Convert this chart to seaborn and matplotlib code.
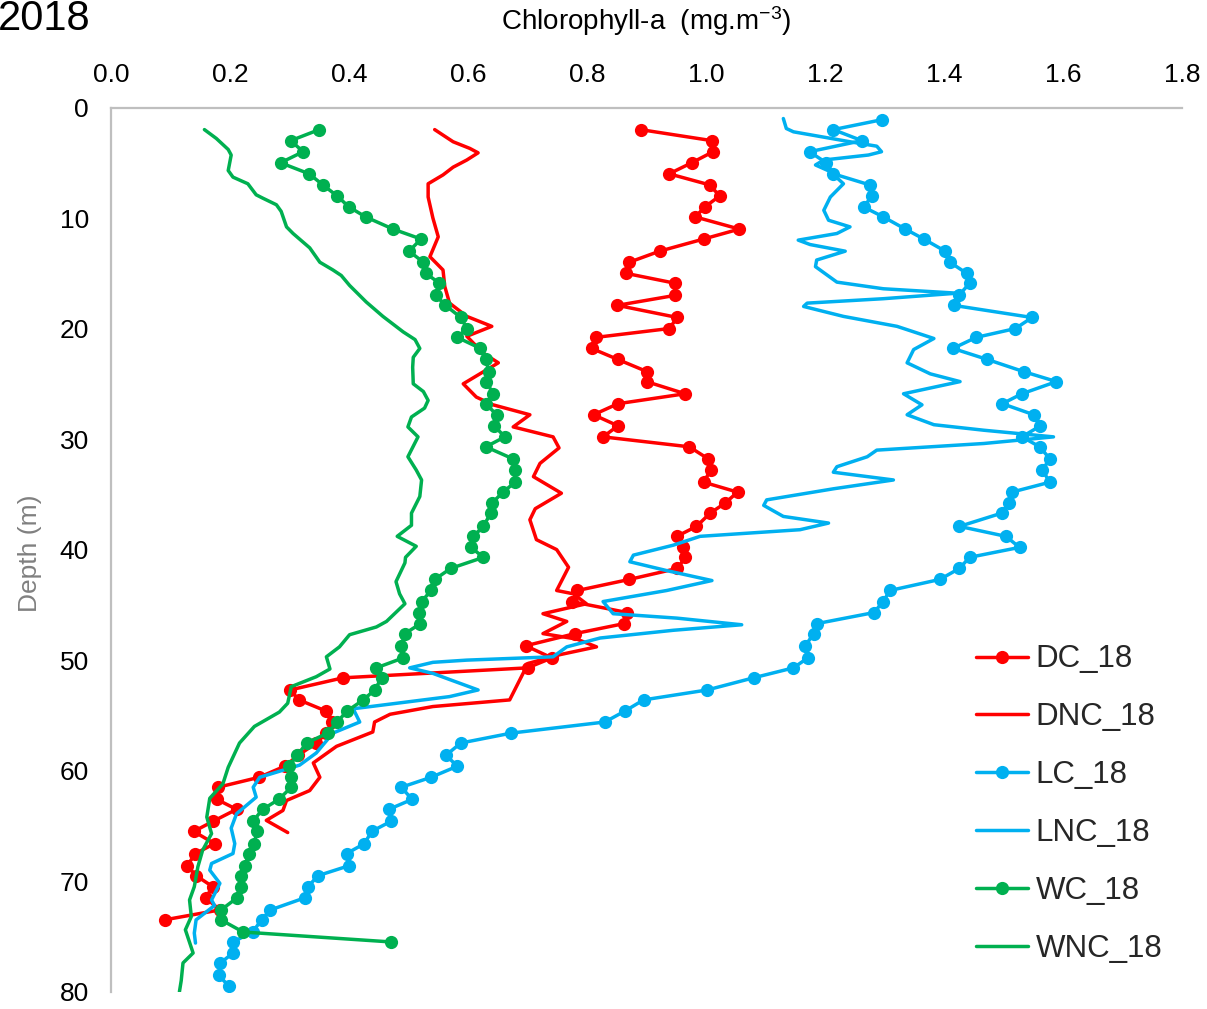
import matplotlib
matplotlib.use("Agg")
import matplotlib.pyplot as plt
import seaborn as sns

# ---- Chlorophyll-a profiles, 2018 (depth in m, chlorophyll-a in mg.m-3) ----

# DC_18 : discrete samples
dc_depth = [2, 3, 4, 5, 6, 7, 8, 9, 9.9, 11, 11.9, 13, 14, 15, 15.9, 17, 17.9, 19, 20,
            20.8, 21.8, 22.8, 23.9, 24.8, 25.9, 26.8, 27.8, 28.8, 29.8,
            30.7, 31.8, 32.8, 33.9, 34.8, 35.8, 36.7, 37.9, 38.8, 39.8,
            40.7, 41.7, 42.7, 43.7, 44.7, 45.7, 46.7, 47.6, 48.7, 49.8,
            50.7, 51.6, 52.7, 53.6, 54.6, 55.6, 56.6, 57.5, 58.6, 59.6,
            60.6, 61.5, 62.6, 63.5, 64.6, 65.5, 66.6, 67.5, 68.6, 69.5,
            70.5, 71.5, 72.6, 73.5]
dc_chl = [0.890, 1.010, 1.012, 0.976, 0.938, 1.006, 1.023, 0.998, 0.982, 1.056, 0.996,
          0.922, 0.871, 0.865, 0.948, 0.948, 0.851, 0.952, 0.938,
          0.815, 0.808, 0.852, 0.901, 0.900, 0.965, 0.852, 0.811, 0.852, 0.827,
          0.972, 1.004, 1.008, 0.996, 1.053, 1.032, 1.007, 0.984, 0.951, 0.962,
          0.965, 0.952, 0.871, 0.784, 0.774, 0.868, 0.862, 0.780, 0.697, 0.741,
          0.700, 0.390, 0.301, 0.316, 0.361, 0.372, 0.362, 0.345, 0.315, 0.292,
          0.249, 0.180, 0.178, 0.211, 0.171, 0.139, 0.174, 0.142, 0.128, 0.143,
          0.171, 0.159, 0.183, 0.090]

# DNC_18 : continuous profile
dnc_depth = [2.0, 3.1, 3.7, 4.1, 4.75, 5.4, 6.1, 6.9, 8.1, 10.0,
             11.7, 13.5, 14.7, 16.2, 17.7, 18.9, 19.8, 20.7, 22.2, 23.1,
             25.0, 26.2, 26.9, 27.8, 28.9, 29.8, 30.8, 32.2, 33.4, 34.9,
             36.3, 37.3, 39.1, 40.0, 41.6, 43.7, 44.0, 44.9, 45.8, 46.5,
             47.6, 48.1, 48.8, 49.5, 50.3, 53.6, 54.2, 54.9, 55.6, 56.5,
             57.8, 59.3, 60.6, 61.8, 62.7, 63.6, 64.5, 65.6]
dnc_chl = [0.544, 0.575, 0.603, 0.617, 0.598, 0.575, 0.558, 0.533, 0.533, 0.541,
           0.550, 0.536, 0.558, 0.561, 0.569, 0.598, 0.640, 0.598, 0.625, 0.651,
           0.592, 0.614, 0.642, 0.704, 0.676, 0.743, 0.753, 0.721, 0.710, 0.757,
           0.713, 0.704, 0.715, 0.749, 0.769, 0.749, 0.777, 0.799, 0.726, 0.766,
           0.726, 0.783, 0.816, 0.755, 0.701, 0.670, 0.541, 0.469, 0.443, 0.440,
           0.379, 0.340, 0.351, 0.334, 0.295, 0.289, 0.261, 0.297]

# LC_18 : discrete samples
lc_depth = [1.1, 2, 3, 4, 5, 6, 7, 8, 9, 9.9, 11, 11.9, 13, 14, 15, 15.9, 17, 17.9, 19, 20,
            20.8, 21.8, 22.8, 23.9, 24.8, 25.9, 26.8, 27.8, 28.8, 29.8,
            30.7, 31.8, 32.8, 33.9, 34.8, 35.8, 36.7, 37.9, 38.8, 39.8,
            40.7, 41.7, 42.7, 43.7, 44.7, 45.7, 46.7, 47.6, 48.7, 49.8,
            50.7, 51.6, 52.7, 53.6, 54.6, 55.6, 56.6, 57.5, 58.6, 59.6,
            60.6, 61.5, 62.6, 63.5, 64.6, 65.5, 66.6, 67.5, 68.6, 69.5,
            70.5, 71.5, 72.6, 73.5, 74.6, 75.5, 76.5, 77.4, 78.5, 79.5]
lc_chl = [1.296, 1.214, 1.262, 1.174, 1.202, 1.214, 1.275, 1.279, 1.265, 1.298,
          1.335, 1.366, 1.402, 1.410, 1.438, 1.443, 1.425, 1.416, 1.548, 1.520,
          1.454, 1.415, 1.473, 1.534, 1.589, 1.531, 1.498, 1.551, 1.562, 1.531,
          1.561, 1.578, 1.565, 1.578, 1.514, 1.510, 1.497, 1.426, 1.504, 1.527,
          1.443, 1.426, 1.393, 1.309, 1.298, 1.282, 1.186, 1.181, 1.167, 1.171,
          1.147, 1.080, 1.002, 0.895, 0.864, 0.830, 0.673, 0.588, 0.563, 0.582,
          0.538, 0.488, 0.506, 0.467, 0.470, 0.438, 0.426, 0.396, 0.400, 0.348,
          0.331, 0.326, 0.268, 0.253, 0.238, 0.205, 0.205, 0.184, 0.181, 0.198]

# LNC_18 : continuous profile
lnc_depth = [1.0, 1.9, 2.2, 3.1, 3.5, 4.0, 4.3, 4.75, 5.2, 5.8,
             6.9, 8.1, 9.3, 10.2, 10.8, 11.4, 12.0, 12.4, 13.0, 13.8,
             14.4, 15.8, 16.4, 16.8, 17.3, 17.7, 18.0, 18.9, 19.8, 20.9,
             21.9, 23.1, 24.1, 24.8, 25.9, 26.9, 27.8, 28.7, 29.2, 29.8,
             30.4, 31.0, 31.6, 32.5, 33.0, 33.7, 34.5, 35.5, 36.0, 37.0,
             37.6, 38.2, 38.8, 39.6, 40.5, 41.1, 41.9, 42.8, 43.7, 44.7,
             45.8, 46.2, 46.8, 47.3, 48.0, 48.8, 49.7, 50.0, 50.2, 50.7,
             51.2, 52.7, 53.3, 54.4, 55.6, 56.6, 58.4, 59.5, 60.6, 61.5,
             62.4, 63.9, 65.2, 66.6, 67.5, 68.4, 69.0, 70.2, 71.7, 72.2,
             73.5, 74.7, 75.6]
lnc_chl = [1.130, 1.135, 1.147, 1.242, 1.287, 1.295, 1.273, 1.198, 1.184, 1.209,
           1.231, 1.209, 1.198, 1.206, 1.242, 1.220, 1.155, 1.175, 1.234, 1.186,
           1.184, 1.220, 1.298, 1.422, 1.298, 1.170, 1.164, 1.231, 1.321, 1.383,
           1.349, 1.338, 1.377, 1.427, 1.332, 1.363, 1.338, 1.383, 1.467, 1.584,
           1.467, 1.287, 1.271, 1.220, 1.214, 1.315, 1.214, 1.102, 1.097, 1.130,
           1.206, 1.158, 0.990, 0.945, 0.878, 0.872, 0.934, 1.010, 0.934, 0.827,
           0.844, 0.951, 1.060, 0.945, 0.822, 0.766, 0.743, 0.598, 0.541, 0.502,
           0.541, 0.617, 0.569, 0.407, 0.418, 0.373, 0.345, 0.317, 0.250, 0.239,
           0.244, 0.211, 0.202, 0.208, 0.205, 0.169, 0.166, 0.183, 0.169, 0.174,
           0.143, 0.140, 0.142]

# WC_18 : discrete samples
wc_depth = [2, 3, 4, 5, 6, 7, 8, 9, 9.9, 11, 11.9, 13, 14, 15, 15.9, 17, 17.9, 19, 20,
            20.8, 21.8, 22.8, 23.9, 24.8, 25.9, 26.8, 27.8, 28.8, 29.8,
            30.7, 31.8, 32.8, 33.9, 34.8, 35.8, 36.7, 37.9, 38.8, 39.8,
            40.7, 41.7, 42.7, 43.7, 44.7, 45.7, 46.7, 47.6, 48.7, 49.8,
            50.7, 51.6, 52.7, 53.6, 54.6, 55.6, 56.6, 57.5, 58.6, 59.6,
            60.6, 61.5, 62.6, 63.5, 64.6, 65.5, 66.6, 67.5, 68.6, 69.5,
            70.5, 71.5, 72.6, 73.5, 74.6, 75.5]
wc_chl = [0.350, 0.302, 0.323, 0.285, 0.333, 0.356, 0.380, 0.400, 0.428, 0.474, 0.521,
          0.501, 0.525, 0.529, 0.552, 0.546, 0.562, 0.588, 0.598,
          0.582, 0.621, 0.630, 0.635, 0.631, 0.642, 0.630, 0.648, 0.644, 0.662,
          0.630, 0.676, 0.679, 0.679, 0.659, 0.640, 0.638, 0.626, 0.609, 0.605,
          0.626, 0.571, 0.544, 0.538, 0.522, 0.518, 0.520, 0.494, 0.488, 0.491,
          0.446, 0.455, 0.443, 0.424, 0.397, 0.380, 0.364, 0.329, 0.313, 0.299,
          0.303, 0.303, 0.282, 0.255, 0.238, 0.245, 0.241, 0.232, 0.225, 0.219,
          0.219, 0.212, 0.185, 0.185, 0.222, 0.471]

# WNC_18 : continuous profile
wnc_depth = [2.0, 2.8, 3.8, 4.3, 5.7, 6.3, 6.9, 7.9, 8.2, 8.8,
             9.4, 10.8, 11.4, 12.7, 14.0, 14.7, 15.2, 16.1, 17.6, 18.9,
             20.3, 21.0, 21.8, 22.6, 23.5, 25.0, 25.7, 26.5, 27.2, 28.0,
             28.9, 29.8, 31.6, 32.8, 33.7, 35.2, 36.7, 37.8, 38.8, 39.7,
             40.7, 41.2, 42.9, 44.0, 44.9, 46.5, 47.0, 47.7, 48.8, 49.7,
             50.8, 51.5, 52.4, 53.9, 54.7, 56.0, 57.5, 59.7, 61.2, 62.5,
             64.2, 65.7, 67.2, 68.7, 70.5, 71.7, 73.2, 74.4, 76.5, 77.4,
             79.0, 80.0]
wnc_chl = [0.157, 0.177, 0.197, 0.202, 0.197, 0.205, 0.230, 0.244, 0.255, 0.278,
           0.286, 0.295, 0.306, 0.334, 0.351, 0.373, 0.387, 0.401, 0.429, 0.457,
           0.491, 0.511, 0.519, 0.508, 0.507, 0.508, 0.525, 0.533, 0.527, 0.505,
           0.499, 0.516, 0.499, 0.513, 0.522, 0.519, 0.505, 0.505, 0.481, 0.513,
           0.495, 0.494, 0.479, 0.485, 0.494, 0.463, 0.446, 0.401, 0.384, 0.362,
           0.368, 0.345, 0.303, 0.297, 0.283, 0.241, 0.216, 0.197, 0.188, 0.166,
           0.161, 0.169, 0.154, 0.146, 0.140, 0.132, 0.135, 0.125, 0.138, 0.121,
           0.118, 0.115]

x_ticks = [0.0, 0.2, 0.4, 0.6, 0.8, 1.0, 1.2, 1.4, 1.6, 1.8]
y_ticks = [0, 10, 20, 30, 40, 50, 60, 70, 80]

RED = "#FF0000"
BLUE = "#00B0F0"
GREEN = "#00B050"

sns.set_style("white")
plt.rcParams["font.family"] = ["Liberation Sans", "DejaVu Sans"]
plt.rcParams["mathtext.fontset"] = "custom"
plt.rcParams["mathtext.rm"] = "Liberation Sans"
plt.rcParams["mathtext.it"] = "Liberation Sans:italic"

W, H = 1207, 1009
fig = plt.figure(figsize=(W / 100, H / 100), dpi=100)
x0, x1 = 111, 1182
y0, y1 = 107.5, 991.7
ax = fig.add_axes([x0 / W, 1 - y1 / H, (x1 - x0) / W, (y1 - y0) / H])

series = [
    ("DC_18", dc_chl, dc_depth, RED, True),
    ("DNC_18", dnc_chl, dnc_depth, RED, False),
    ("LC_18", lc_chl, lc_depth, BLUE, True),
    ("LNC_18", lnc_chl, lnc_depth, BLUE, False),
    ("WC_18", wc_chl, wc_depth, GREEN, True),
    ("WNC_18", wnc_chl, wnc_depth, GREEN, False),
]
for i, (name, chl, depth, col, mk) in enumerate(series):
    kw = dict(marker="o", markersize=9.5, markeredgewidth=0) if mk else dict(marker=None)
    sns.lineplot(x=chl, y=depth, sort=False, estimator=None, orient="y",
                 color=col, linewidth=2.5, label=name, ax=ax, zorder=2 + i,
                 solid_joinstyle="round", solid_capstyle="round", **kw)

ax.set_xlim(0, 1.8)
ax.set_ylim(80, 0)
ax.set_xticks(x_ticks)
ax.set_xticklabels([f"{v:.1f}" for v in x_ticks])
ax.set_yticks(y_ticks)
ax.set_yticklabels([str(v) for v in y_ticks])
ax.xaxis.tick_top()
ax.tick_params(axis="x", length=0, pad=14.5, labelsize=19, colors="black")
ax.tick_params(axis="y", length=0, pad=16, labelsize=19, colors="black")
ax.set_xlabel("")
ax.set_ylabel("")

for side in ("bottom", "right"):
    ax.spines[side].set_visible(False)
for side in ("top", "left"):
    ax.spines[side].set_color("#BFBFBF")
    ax.spines[side].set_linewidth(1.6)
ax.grid(False)

fig.text(0.5 * (x0 + x1) / W, 1 - 21 / H, r"Chlorophyll-a  (mg.m$^{\mathrm{-3}}$)",
         ha="center", va="center", fontsize=20, color="black")
fig.text(30 / W, 1 - 553 / H, "Depth (m)", rotation=90, ha="center", va="center",
         fontsize=19, color="#808080")
fig.text(-2 / W, 1 - 30 / H, "2018", ha="left", va="baseline", fontsize=30, color="black")

leg = ax.legend(loc="center left", bbox_to_anchor=(976 / W, 1 - 804 / H),
                bbox_transform=fig.transFigure, frameon=False, fontsize=22.5,
                handlelength=1.65, handletextpad=0.25, labelspacing=0.89,
                borderpad=0, borderaxespad=0, markerscale=1.0)

fig.savefig("out.png", dpi=100)
